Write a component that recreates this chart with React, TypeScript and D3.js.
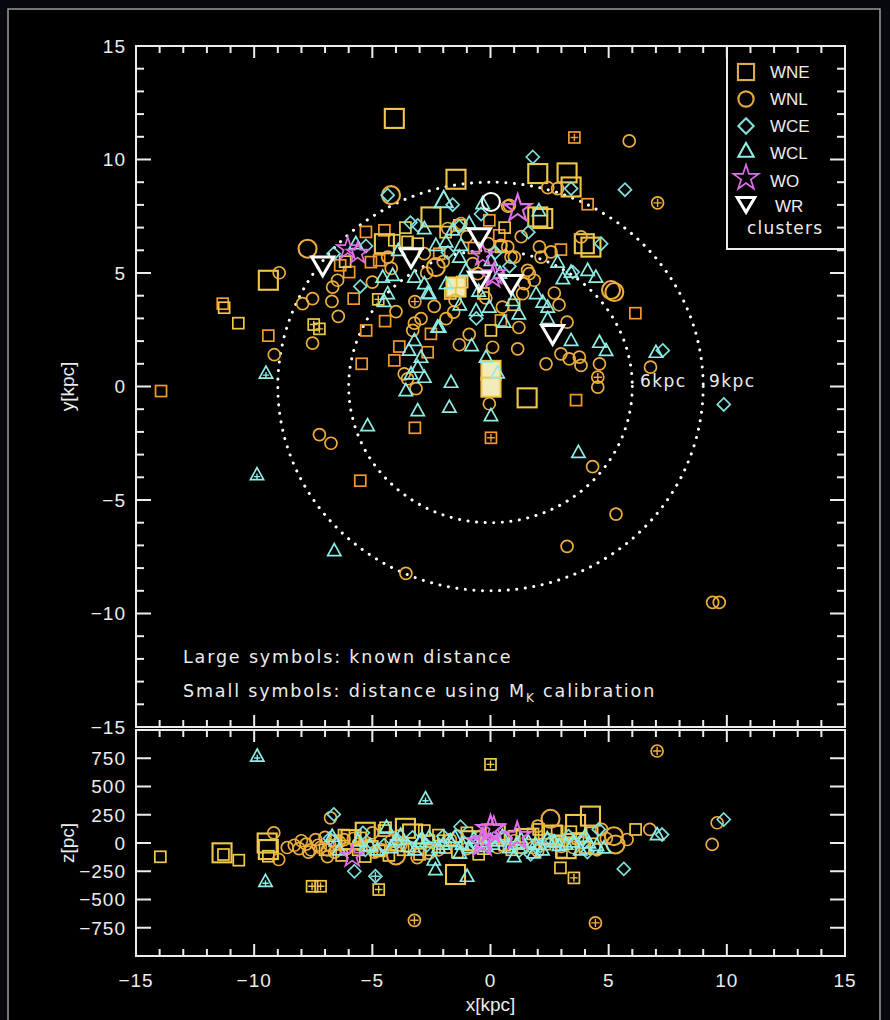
import React from "react";
import * as d3 from "d3";

// [x, y|z, flags]  flags: L = large (known distance), o = orange tone, + = cross, f = filled, ring = white ring
type Pt = [number, number, string?];

const X_TICKS = [-15, -10, -5, 0, 5, 10, 15];
const Y_TICKS = [-15, -10, -5, 0, 5, 10, 15];
const Z_TICKS = [-750, -500, -250, 0, 250, 500, 750];
const RING_RADII = [6, 9];

// ---------- plan view: x, y [kpc] ----------
const wneXY: Pt[] = [
  [-13.94, -0.2, "o"], [-11.33, 3.65, "o"], [-11.27, 3.47, ""], [-10.67, 2.79, ""], [-9.4, 2.24, "o"],
  [-9.4, 4.68, "L"], [-4.07, 11.81, "L"], [-1.46, 9.13, "L"], [-7.48, 2.73, "+"], [-7.24, 2.54, "+"],
  [-6.36, 5.34, "o"], [-5.98, 5.04, "o"], [-6.15, 5.5, ""], [-5.79, 3.87, "o"], [-5.26, 2.47, "o"],
  [-4.46, 2.88, "o"], [-5.45, 1.0, "o"], [-4.07, 1.15, "o"], [-4.75, 3.84, "+"], [-2.52, 2.32, "o"],
  [-3.86, 1.76, "o"], [-2.66, 1.51, "o"], [-2.52, 7.47, "L"], [-1.32, 7.1, ""], [-5.27, 6.81, "o"],
  [-4.49, 6.88, "o"], [-4.49, 6.29, "L"], [-4.07, 6.44, ""], [-3.51, 6.37, ""], [-3.08, 6.29, ""],
  [-5.06, 5.48, "o"], [-4.71, 5.56, "o"], [-2.17, 5.85, "o"], [-1.46, 4.38, "Lf"], [-1.2, 4.6, ""],
  [3.55, 10.97, "o+"], [2.0, 9.38, "L"], [3.24, 9.41, "L"], [3.41, 8.79, "L"], [4.11, 8.03, "o"],
  [2.0, 7.47, "L"], [2.21, 7.4, "L"], [-0.05, 7.32, "o"], [3.97, 6.29, "L"], [4.25, 6.14, "L"],
  [2.98, 6.03, "o"], [0.37, 6.66, "o"], [0.44, 6.15, ""], [6.13, 3.23, "o"], [1.55, -0.5, "L"],
  [3.62, -0.6, "o"], [0.02, -2.26, "o+"], [-3.2, -1.82, "o"], [-5.51, -4.15, "o"], [0.02, 0.71, "Lf"],
  [0.02, -0.03, "Lf"], [0.44, 2.91, "o"], [0.02, 2.47, ""], [-0.3, 4.1, ""], [0.6, 7.0, ""],
  [-1.9, 6.8, ""], [-0.7, 6.1, "o"], [1.0, 3.6, ""], [-3.6, 7.0, ""], [-1.7, 4.1, ""],
];

const wnlXY: Pt[] = [
  [-9.15, 1.4, ""], [-8.94, 5.01, ""], [-7.74, 6.07, "L"], [-4.21, 8.43, "L"], [-6.68, 4.38, ""],
  [-6.47, 4.68, ""], [-6.71, 3.75, ""], [-7.53, 3.87, ""], [-7.95, 3.65, ""], [-6.44, 3.09, ""],
  [-7.53, 1.91, ""], [-3.2, 3.74, "+"], [-2.38, 3.53, ""], [-2.94, 2.99, ""], [-3.22, 2.79, ""],
  [-3.29, 2.47, ""], [-1.88, 2.99, ""], [-1.56, 3.28, ""], [-1.32, 1.84, ""], [-3.65, 0.56, ""],
  [-3.15, -0.09, ""], [-3.51, 0.34, ""], [-1.81, 6.96, ""], [-4.35, 5.7, ""], [-2.8, 5.85, ""],
  [-2.31, 5.26, "L"], [-1.25, 7.18, ""], [5.87, 10.82, ""], [2.42, 8.76, ""], [2.84, 8.72, ""],
  [7.07, 8.09, "+"], [0.73, 7.94, ""], [3.83, 6.59, ""], [2.07, 6.15, ""], [2.56, 5.93, ""],
  [2.14, 5.7, ""], [0.73, 6.15, ""], [1.01, 5.7, ""], [1.64, 4.97, ""], [1.85, 4.68, ""],
  [2.7, 4.12, ""], [5.24, 4.16, "L"], [5.1, 4.25, "L"], [1.36, 4.09, ""], [3.24, 2.84, ""],
  [2.98, 1.44, ""], [3.33, 1.22, ""], [3.76, 1.29, ""], [3.83, 0.93, ""], [4.61, 1.0, ""],
  [2.35, 1.0, ""], [1.15, 1.66, ""], [0.09, 1.73, ""], [4.54, 0.41, "+"], [4.54, -0.03, ""],
  [6.77, 0.85, ""], [-0.05, -0.76, ""], [4.32, -3.53, ""], [5.31, -5.62, ""], [3.24, -7.04, ""],
  [9.4, -9.51, ""], [9.68, -9.51, ""], [-7.24, -2.12, ""], [-6.75, -2.5, ""], [-3.58, -8.23, ""],
  [-0.75, 5.41, ""], [-0.54, 4.97, ""], [1.57, 5.12, ""], [1.43, 4.53, ""], [0.44, 6.22, ""],
  [0.87, 5.7, ""], [0.8, 7.98, ""], [-2.7, 5.0, ""], [-4.2, 5.2, ""],
  [-0.1, 6.3, ""], [-1.0, 6.6, ""], [1.3, 6.6, ""], [-2.0, 5.5, ""], [-0.2, 3.9, ""],
  [0.5, 3.5, ""], [1.2, 2.6, ""], [-0.9, 2.3, ""], [-1.5, 3.8, ""], [2.9, 3.6, ""],
  [-4.0, 3.3, ""], [-5.0, 4.6, ""],
];

const wceXY: Pt[] = [
  [-4.35, 8.43, ""], [-1.6, 8.01, ""], [-6.64, 5.85, ""], [-5.27, 6.19, ""], [-5.51, 4.41, ""],
  [-3.39, 7.22, ""], [-3.08, 7.1, ""], [-1.32, 7.05, ""], [1.79, 10.11, ""], [5.69, 8.67, ""],
  [3.41, 8.72, ""], [4.68, 6.29, ""], [3.48, 5.04, ""], [7.29, 1.59, ""], [9.87, -0.79, ""],
  [-0.6, 3.0, ""], [0.8, 5.3, ""], [-0.4, 7.6, ""], [0.2, 5.9, ""], [-1.8, 5.9, ""], [1.6, 6.8, ""],
];

const wclXY: Pt[] = [
  [-9.5, 0.59, "+"], [-9.88, -3.88, "+"], [-6.61, -7.23, ""], [-5.2, -1.72, ""], [-3.08, -1.06, ""],
  [-1.74, -0.91, ""], [-1.67, 0.19, ""], [-1.98, 8.2, "L"], [-0.33, 8.06, ""], [-2.8, 6.96, ""],
  [-2.31, 6.22, ""], [-1.88, 6.37, ""], [-1.25, 6.22, ""], [-1.32, 5.7, ""], [-4.56, 4.82, ""],
  [-4.14, 4.9, ""], [-4.35, 4.09, ""], [-4.5, 3.75, ""], [-2.66, 4.12, ""], [-2.24, 2.62, ""],
  [-3.22, 4.82, ""], [-2.8, 4.53, ""], [-1.88, 4.53, ""], [-1.04, 5.12, ""], [0.02, 5.56, ""],
  [-2.59, 4.09, ""], [-0.61, 3.35, ""], [-0.05, 3.5, ""], [0.58, 2.84, ""], [-2.17, 2.62, ""],
  [-3.22, 2.03, ""], [-2.94, 1.29, ""], [-3.08, 0.85, ""], [-2.8, 0.41, ""], [-3.36, 0.56, ""],
  [-3.58, -0.18, ""], [-3.45, 1.6, ""], [-0.19, 1.29, ""], [0.02, -1.28, ""], [2.84, 5.48, ""],
  [3.41, 5.04, ""], [3.06, 4.75, ""], [4.11, 5.12, ""], [4.46, 4.82, ""], [1.93, 4.09, ""],
  [2.21, 3.72, ""], [2.42, 3.5, ""], [0.94, 3.79, ""], [2.42, 2.99, ""], [3.41, 2.03, ""],
  [4.61, 1.95, ""], [4.89, 1.59, ""], [7.0, 1.51, ""], [3.72, -2.9, ""], [2.05, 7.75, ""],
  [-1.6, 6.9, ""], [-0.9, 7.2, ""], [0.4, 5.0, ""], [-0.5, 4.2, ""], [1.2, 3.2, ""],
  [-1.3, 3.6, ""], [-0.8, 1.8, ""], [0.3, 0.6, ""], [-3.9, 6.0, ""], [-5.7, 6.3, ""],
];

const woXY: Pt[] = [
  [-6.04, 6.07, ""], [-5.62, 5.87, ""], [1.15, 7.84, "L"], [0.16, 4.97, ""], [-0.33, 5.78, ""], [0.09, 4.82, ""],
];

const clusterXY: Pt[] = [
  [-7.1, 5.34, ""], [-3.36, 5.7, ""], [-0.47, 6.59, ""], [-0.47, 4.68, ""], [0.87, 4.53, ""], [2.63, 2.32, ""],
  [0.02, 8.13, "ring"],
];

// ---------- edge-on view: x [kpc], z [pc] ----------
const wneXZ: Pt[] = [
  [-13.97, -122, ""], [-11.36, -87, "L"], [-11.3, -102, ""], [-10.65, -152, ""], [-9.45, 0, "L"],
  [-9.4, -58, "L"], [-9.4, -117, ""], [-7.55, -383, "+"], [-7.19, -383, "+"], [-4.73, -412, "+"],
  [-4.44, 135, ""], [-1.48, -279, "L"], [0, 696, "+"], [2.96, -220, ""], [3.53, -309, "+"],
  [3.6, 164, "L"], [4.23, 238, "L"], [6.14, 120, ""], [2.82, 105, ""], [2.04, 120, ""],
  [-6.2, 70, ""], [-5.9, 30, "L"], [-5.5, 45, ""], [-5.6, -60, ""], [-6.3, -110, ""],
  [-4.7, -70, ""], [-4.3, -110, ""], [-3.7, -60, ""], [-3.3, 80, "L"], [-2.8, 110, ""],
  [-2.2, 70, ""], [-1.9, -40, ""], [-1.4, -80, ""], [-0.8, 20, "L"], [0.6, -20, ""],
  [1.5, 40, "L"], [2.3, -10, ""], [3.2, -50, "L"], [3.7, 40, ""], [4.3, 90, ""],
  [-4.5, 110, ""], [-7.0, -60, ""], [-5.3, -120, ""], [-2.5, -60, ""], [1.0, 60, ""],
  [2.6, 70, "L"], [-0.3, -50, ""], [-5.0, -30, ""], [-4.0, -20, ""], [-3.0, -100, ""],
  [-2.0, 20, ""], [-1.0, 90, ""], [0.2, 80, "L"], [0.9, -60, ""], [1.8, 80, ""],
  [2.9, 20, ""], [3.4, 100, ""], [4.0, -40, ""], [-6.6, 20, ""], [-5.3, 95, "L"],
  [-3.6, 130, "L"], [-2.6, 20, ""], [-0.5, -100, ""], [3.0, -80, ""], [4.4, -50, ""], [1.3, -40, ""],
];

const wnlXZ: Pt[] = [
  [-9.17, 90, ""], [-8.96, -146, ""], [-6.77, 223, ""], [-3.22, -684, "+"], [7.05, 814, "+"],
  [4.44, -707, "+"], [9.38, -13, ""], [9.59, 179, ""], [2.54, 214, "L"], [5.22, 60, "L"],
  [5.29, -13, "L"], [5.78, 31, ""], [6.74, 120, ""], [-8.3, -20, ""], [-8.1, -50, ""],
  [-7.8, -10, ""], [-7.6, -60, ""], [-7.4, 30, ""], [-7.2, -40, ""], [-7.0, 50, ""],
  [-6.8, -20, ""], [-6.6, -80, ""], [-6.4, 10, ""], [-6.1, -50, ""], [-5.8, 40, ""],
  [-5.2, -20, ""], [-4.6, -60, ""], [-4.2, 20, ""], [-3.4, -40, ""], [-2.6, -90, ""],
  [-1.7, 30, ""], [-1.0, -50, ""], [-0.4, 60, ""], [0.3, -40, ""], [1.0, 20, ""],
  [1.8, -40, ""], [2.5, 30, ""], [3.0, -30, ""], [3.9, 0, ""], [4.5, -60, ""],
  [-6.9, -120, ""], [-4.0, -110, "L"], [-5.0, 90, ""], [4.7, 120, ""], [-3.9, 60, ""],
  [-8.6, -40, ""], [-8.0, 20, ""], [-7.7, -80, ""], [-7.3, -20, ""], [-6.9, -60, ""],
  [-6.2, 30, ""], [-5.6, -10, ""], [-4.9, -80, ""], [-3.8, -20, ""], [-2.2, -60, ""],
  [-1.4, 60, ""], [0.6, 40, ""], [2.0, -70, ""], [3.5, -40, ""], [4.9, 40, ""],
  [-3.1, -130, ""], [2.0, 150, ""],
];

const wceXZ: Pt[] = [
  [-6.63, 253, ""], [-5.76, -250, ""], [-4.87, -294, "+"], [-1.27, 144, ""], [4.58, 120, ""],
  [5.64, -229, ""], [7.26, 75, ""], [9.87, 208, ""], [-6.8, 40, ""], [-5.3, -60, ""],
  [-3.9, 20, ""], [-2.7, -20, ""], [-1.1, 0, ""], [0.6, 50, ""], [2.1, -30, ""],
  [3.3, 60, ""], [4.1, -80, ""], [1.7, -100, ""], [-4.5, -20, ""], [-3.3, 50, ""],
  [-2.0, 60, ""], [-0.6, -20, ""], [0.0, 30, ""], [1.2, -70, ""], [2.6, 20, ""],
  [3.9, 30, ""], [-5.4, 90, ""],
];

const wclXZ: Pt[] = [
  [-9.87, 770, "+"], [-9.52, -339, "+"], [-2.75, 392, "+"], [-0.99, -294, ""], [-2.33, -235, ""],
  [7.05, 75, ""], [4.16, 2, ""], [4.8, -42, ""], [1.83, -87, ""], [-6.7, 60, ""],
  [-6.4, -60, ""], [-5.1, -20, ""], [-4.4, 140, ""], [-4.0, 30, ""], [-3.5, -30, ""],
  [-3.0, 10, ""], [-2.6, 50, ""], [-2.2, -40, ""], [-1.7, 20, ""], [-1.2, -10, ""],
  [-0.7, 40, ""], [-0.2, -30, ""], [0.3, 20, ""], [0.8, -40, ""], [1.3, 30, ""],
  [1.9, -10, ""], [2.4, 40, ""], [2.9, -20, ""], [3.5, 10, ""], [4.0, 60, ""],
  [-2.4, -150, ""], [4.5, -20, ""], [-5.6, 20, ""], [-4.8, -60, ""], [-4.2, -40, ""],
  [-3.8, 70, ""], [-3.2, -60, ""], [-2.9, 40, ""], [-2.0, -10, ""], [-1.5, 50, ""],
  [-0.9, -40, ""], [-0.4, 10, ""], [0.1, -10, ""], [0.5, 60, ""], [1.1, -10, ""],
  [1.6, 10, ""], [2.2, -60, ""], [2.7, 10, ""], [3.2, -10, ""], [3.8, -60, ""],
  [-1.3, -90, ""], [1.0, -120, ""],
];

const woXZ: Pt[] = [
  [-5.85, -117, ""], [0, 120, "L"], [1.13, 60, "L"], [-0.35, 2, "L"], [0.14, 135, ""], [-0.28, 31, ""],
];

const LEGEND = [
  { label: "WNE", shape: "square" },
  { label: "WNL", shape: "circle" },
  { label: "WCE", shape: "diamond" },
  { label: "WCL", shape: "triangle" },
  { label: "WO", shape: "star" },
  { label: "WR", shape: "cluster" },
];

// ---------- styling ----------
const COLORS = {
  wne: "#efc84a",
  wneOrange: "#f29a32",
  wnl: "#eeae3e",
  wnlOrange: "#f39a30",
  wce: "#7fe0dc",
  wcl: "#8eeee6",
  wo: "#e06ee6",
  cluster: "#ffffff",
};
const AXIS = "#ececec";
const TICK_FONT = "'Liberation Sans', Arial, sans-serif";
const NOTE_FONT = "'DejaVu Sans', Verdana, sans-serif";

const x = d3.scaleLinear().domain([-15, 15]).range([136, 845]);
const y = d3.scaleLinear().domain([-15, 15]).range([727, 46]);
const z = d3.scaleLinear().domain([-1000, 1000]).range([956, 730]);

const starGen = d3.symbol().type(d3.symbolStar);

type Shape = "square" | "circle" | "diamond" | "triangle" | "star" | "cluster" | "ring";

function Marker({ shape, cx, cy, big, color, cross, filled, scale = 1 }: {
  shape: Shape; cx: number; cy: number; big: boolean; color: string; cross?: boolean; filled?: boolean; scale?: number;
}) {
  const sw = big ? 2.1 : 1.7;
  const fill = filled ? "#f4ecb8" : "none";
  const common = { fill, stroke: color, strokeWidth: sw };
  let body: React.ReactNode = null;
  let r = 6;
  if (shape === "square") {
    r = (big ? 9.5 : 5.5) * scale;
    body = <rect x={-r} y={-r} width={2 * r} height={2 * r} {...common} />;
  } else if (shape === "circle" || shape === "ring") {
    r = (big ? 9 : 6) * scale;
    body = <circle r={r} {...common} />;
  } else if (shape === "diamond") {
    r = (big ? 9 : 6.5) * scale;
    body = <path d={`M0,${-r}L${r},0L0,${r}L${-r},0Z`} {...common} />;
  } else if (shape === "triangle") {
    r = (big ? 9.5 : 7) * scale;
    body = <path d={`M0,${-r}L${r * 0.95},${r * 0.72}L${-r * 0.95},${r * 0.72}Z`} {...common} />;
  } else if (shape === "star") {
    const area = (big ? 230 : 150) * scale * scale;
    body = <path d={starGen.size(area)() || ""} {...common} />;
  } else if (shape === "cluster") {
    r = 11 * scale;
    body = (
      <path d={`M${-r},${-r * 0.75}L${r},${-r * 0.75}L0,${r * 0.95}Z`} fill="none" stroke={color} strokeWidth={3} />
    );
  }
  const tri = shape === "triangle";
  const cr = tri ? r * 0.45 : r * 0.7;
  return (
    <g transform={`translate(${cx},${cy})`}>
      {body}
      {cross && (
        <path d={`M${-cr},${tri ? 2 : 0}H${cr}M0,${tri ? -cr + 2 : -cr}V${cr + (tri ? 2 : 0)}`} stroke={color} strokeWidth={1.4} />
      )}
    </g>
  );
}

function Series({ data, shape, yScale, color, alt }: {
  data: Pt[]; shape: Shape; yScale: d3.ScaleLinear<number, number>; color: string; alt?: string;
}) {
  return (
    <g>
      {data.map((p, i) => {
        const f = p[2] || "";
        const c = f.includes("o") && alt ? alt : color;
        const sh: Shape = f.includes("ring") ? "ring" : shape;
        return (
          <Marker key={i} shape={sh} cx={x(p[0])} cy={yScale(p[1])} big={f.includes("L") || sh === "ring"}
            color={c} cross={f.includes("+")} filled={f.includes("f")} />
        );
      })}
    </g>
  );
}

function Frame({ top, bottom, yScale, yTicks, yMinor, tickFmt }: {
  top: number; bottom: number; yScale: d3.ScaleLinear<number, number>; yTicks: number[]; yMinor: number[];
  tickFmt: (v: number) => string;
}) {
  const [x0, x1] = x.range();
  const xMinor = d3.range(-15, 16, 1);
  const xMajor = new Set(X_TICKS);
  const majorY = new Set(yTicks);
  return (
    <g stroke={AXIS} strokeWidth={2}>
      <rect x={x0} y={top} width={x1 - x0} height={bottom - top} fill="none" />
      {xMinor.map((v) => {
        const len = xMajor.has(v) ? 12 : 7;
        return (
          <g key={v}>
            <line x1={x(v)} x2={x(v)} y1={bottom} y2={bottom - len} />
            <line x1={x(v)} x2={x(v)} y1={top} y2={top + len} />
          </g>
        );
      })}
      {yMinor.map((v) => {
        const len = majorY.has(v) ? 15 : 8;
        return (
          <g key={v}>
            <line x1={x0} x2={x0 + len} y1={yScale(v)} y2={yScale(v)} />
            <line x1={x1} x2={x1 - len} y1={yScale(v)} y2={yScale(v)} />
          </g>
        );
      })}
      <g stroke="none" fill={AXIS} fontFamily={TICK_FONT} fontSize={19} letterSpacing={1}>
        {yTicks.map((v) => (
          <text key={v} x={x0 - 10} y={yScale(v)} dy="0.36em" textAnchor="end">{tickFmt(v)}</text>
        ))}
      </g>
    </g>
  );
}

const fmt = (v: number) => (v < 0 ? `\u2212${Math.abs(v)}` : `${v}`);

export default function App() {
  const [x0, x1] = x.range();
  const legendX = 727;
  const legendRows = [72, 99, 126, 151, 178, 204];
  const legendText = [78, 105, 132, 159, 187, 212];
  return (
    <div style={{ position: "absolute", left: 0, top: 0 }}>
      <svg width={890} height={1020} style={{ display: "block", background: "#06080d" }}>
        <rect x={8} y={9} width={872} height={1015} fill="#000" stroke="#9a9a9a" strokeWidth={1.5} />

        {/* reference rings in the plan view */}
        <g fill="none" stroke="#ffffff" strokeWidth={3} strokeLinecap="round" strokeDasharray="0.1 8.5">
          {RING_RADII.map((r) => (
            <ellipse key={r} cx={x(0)} cy={y(0)} rx={x(r) - x(0)} ry={y(0) - y(r)} />
          ))}
        </g>
        <g fill={AXIS} fontFamily={NOTE_FONT} fontSize={17} letterSpacing={1.4}>
          <text x={640} y={387}>6kpc</text>
          <text x={709} y={387}>9kpc</text>
        </g>

        {/* plan view */}
        <Series data={wneXY} shape="square" yScale={y} color={COLORS.wne} alt={COLORS.wneOrange} />
        <Series data={wnlXY} shape="circle" yScale={y} color={COLORS.wnl} alt={COLORS.wnlOrange} />
        <Series data={wceXY} shape="diamond" yScale={y} color={COLORS.wce} />
        <Series data={wclXY} shape="triangle" yScale={y} color={COLORS.wcl} />
        <Series data={woXY} shape="star" yScale={y} color={COLORS.wo} />
        <Series data={clusterXY} shape="cluster" yScale={y} color={COLORS.cluster} />

        {/* edge-on view */}
        <Series data={wneXZ} shape="square" yScale={z} color={COLORS.wne} alt={COLORS.wneOrange} />
        <Series data={wnlXZ} shape="circle" yScale={z} color={COLORS.wnl} alt={COLORS.wnlOrange} />
        <Series data={wceXZ} shape="diamond" yScale={z} color={COLORS.wce} />
        <Series data={wclXZ} shape="triangle" yScale={z} color={COLORS.wcl} />
        <Series data={woXZ} shape="star" yScale={z} color={COLORS.wo} />

        {/* legend box */}
        <rect x={legendX} y={46} width={x1 - legendX} height={249 - 46} fill="#000" stroke={AXIS} strokeWidth={2} />
        {LEGEND.map((item, i) => {
          const color =
            item.shape === "square" ? "#dcae48" : item.shape === "circle" ? "#e6a840" :
            item.shape === "diamond" ? COLORS.wce : item.shape === "triangle" ? COLORS.wcl :
            item.shape === "star" ? COLORS.wo : "#fff";
          return (
            <g key={item.label}>
              <Marker shape={item.shape as Shape} cx={746} cy={legendRows[i]} big={item.shape !== "star"}
                color={color} scale={item.shape === "cluster" ? 0.8 : item.shape === "star" ? 1.15 : 0.85} />
              <text x={item.label === "WR" ? 775 : 770} y={legendText[i]} fill={AXIS} fontFamily={TICK_FONT} fontSize={17}>
                {item.label}
              </text>
            </g>
          );
        })}
        <text x={747} y={234} fill={AXIS} fontFamily={NOTE_FONT} fontSize={17} letterSpacing={1.2}>clusters</text>

        <Frame top={46} bottom={727} yScale={y} yTicks={Y_TICKS} yMinor={d3.range(-15, 16, 1)} tickFmt={fmt} />
        <Frame top={730} bottom={956} yScale={z} yTicks={Z_TICKS} yMinor={Z_TICKS} tickFmt={fmt} />

        {/* x tick labels */}
        <g fill={AXIS} fontFamily={TICK_FONT} fontSize={19} letterSpacing={1}>
          {X_TICKS.map((v) => (
            <text key={v} x={x(v)} y={987} textAnchor="middle">{fmt(v)}</text>
          ))}
        </g>

        {/* axis titles */}
        <g fill={AXIS} fontFamily={TICK_FONT} fontSize={19}>
          <text x={(x0 + x1) / 2} y={1011} textAnchor="middle">x[kpc]</text>
          <text transform={`translate(74,${y(0)}) rotate(-90)`} textAnchor="middle">y[kpc]</text>
          <text transform={`translate(74,${z(0)}) rotate(-90)`} textAnchor="middle">z[pc]</text>
        </g>

        {/* notes */}
        <g fill={AXIS} fontFamily={NOTE_FONT} fontSize={17.5} letterSpacing={1.85}>
          <text x={183} y={663}>Large symbols: known distance</text>
          <text x={183} y={697}>
            <tspan>Small symbols: distance using M</tspan>
            <tspan dy={5} fontSize={12}>K</tspan>
            <tspan dy={-5}> calibration</tspan>
          </text>
        </g>
      </svg>
    </div>
  );
}
